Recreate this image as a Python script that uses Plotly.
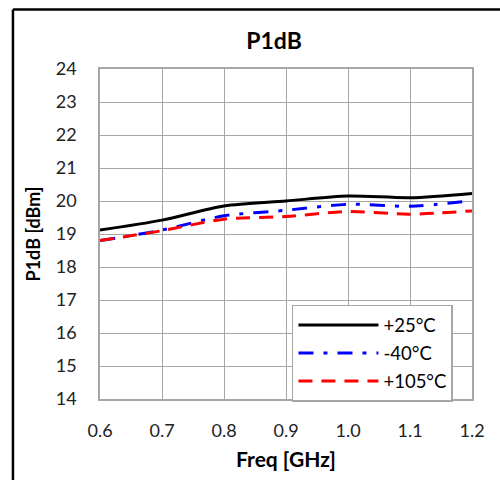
import plotly.graph_objects as go

# Frequency sweep (GHz) and measured P1dB (dBm) at three temperatures
freq_ghz = [0.6, 0.7, 0.8, 0.9, 1.0, 1.1, 1.2]
p1db_25c = [19.12, 19.42, 19.85, 20.00, 20.15, 20.10, 20.23]
p1db_m40c = [18.80, 19.12, 19.55, 19.72, 19.90, 19.84, 20.01]
p1db_105c = [18.80, 19.10, 19.45, 19.53, 19.68, 19.60, 19.70]

x_ticks = [0.6, 0.7, 0.8, 0.9, 1.0, 1.1, 1.2]
x_tick_text = ["0.6", "0.7", "0.8", "0.9", "1.0", "1.1", "1.2"]
y_ticks = list(range(14, 25))

FONT = "Lato, Carlito, Calibri, sans-serif"
GRID = "#a6a6a6"

fig = go.Figure()
fig.add_trace(go.Scatter(
    x=freq_ghz, y=p1db_25c, name="+25°C", mode="lines", legendgroup="a",
    line=dict(color="black", width=3, shape="spline", smoothing=0.8),
))
fig.add_trace(go.Scatter(
    x=freq_ghz, y=p1db_m40c, name="-40°C", mode="lines", legendgroup="b",
    line=dict(color="blue", width=3, dash="15px,10px,4px,10px",
              shape="spline", smoothing=0.8),
))
fig.add_trace(go.Scatter(
    x=freq_ghz, y=p1db_105c, name="+105°C", mode="lines", legendgroup="c",
    line=dict(color="red", width=3, dash="14px,9px", shape="spline", smoothing=0.8),
))

fig.update_layout(
    width=500, height=480,
    margin=dict(l=100, r=28, t=69, b=79),
    paper_bgcolor="white", plot_bgcolor="white",
    font=dict(family=FONT, size=16, color="#222222"),
    title=dict(text="<b>P1dB</b>", x=0.548, xanchor="center", y=0.914, yanchor="middle",
               font=dict(size=23, color="black")),
    showlegend=True,
    legend=dict(
        x=0.516, y=0.285, xanchor="left", yanchor="top",
        bgcolor="white", bordercolor=GRID, borderwidth=1.5,
        font=dict(size=18.5, color="black"),
        tracegroupgap=1, itemwidth=80,
    ),
    shapes=[
        # outer chart frame (left and top edges visible)
        dict(type="line", xref="paper", yref="paper",
             x0=-0.234, x1=-0.234, y0=-0.25, y1=1.18,
             line=dict(color="black", width=2.5)),
        dict(type="line", xref="paper", yref="paper",
             x0=-0.234, x1=1.1, y0=1.18, y1=1.18,
             line=dict(color="black", width=2.5)),
    ],
)

fig.update_xaxes(
    range=[0.6, 1.2], tickvals=x_ticks, ticktext=x_tick_text,
    showgrid=True, gridcolor=GRID, gridwidth=1,
    showline=True, linecolor=GRID, linewidth=1.5, mirror=True,
    zeroline=False, ticks="", ticklabelstandoff=15,
    tickfont=dict(size=18),
    title=dict(text="<b>Freq [GHz]</b>", font=dict(size=21, color="black"), standoff=12),
)
fig.update_yaxes(
    range=[14, 24], tickvals=y_ticks,
    showgrid=True, gridcolor=GRID, gridwidth=1,
    showline=True, linecolor=GRID, linewidth=1.5, mirror=True,
    zeroline=False, ticks="", ticklabelstandoff=18,
    tickfont=dict(size=18),
    title=dict(text="<b>P1dB [dBm]</b>", font=dict(size=18, color="black"), standoff=10),
)

fig.write_html("out.html")
